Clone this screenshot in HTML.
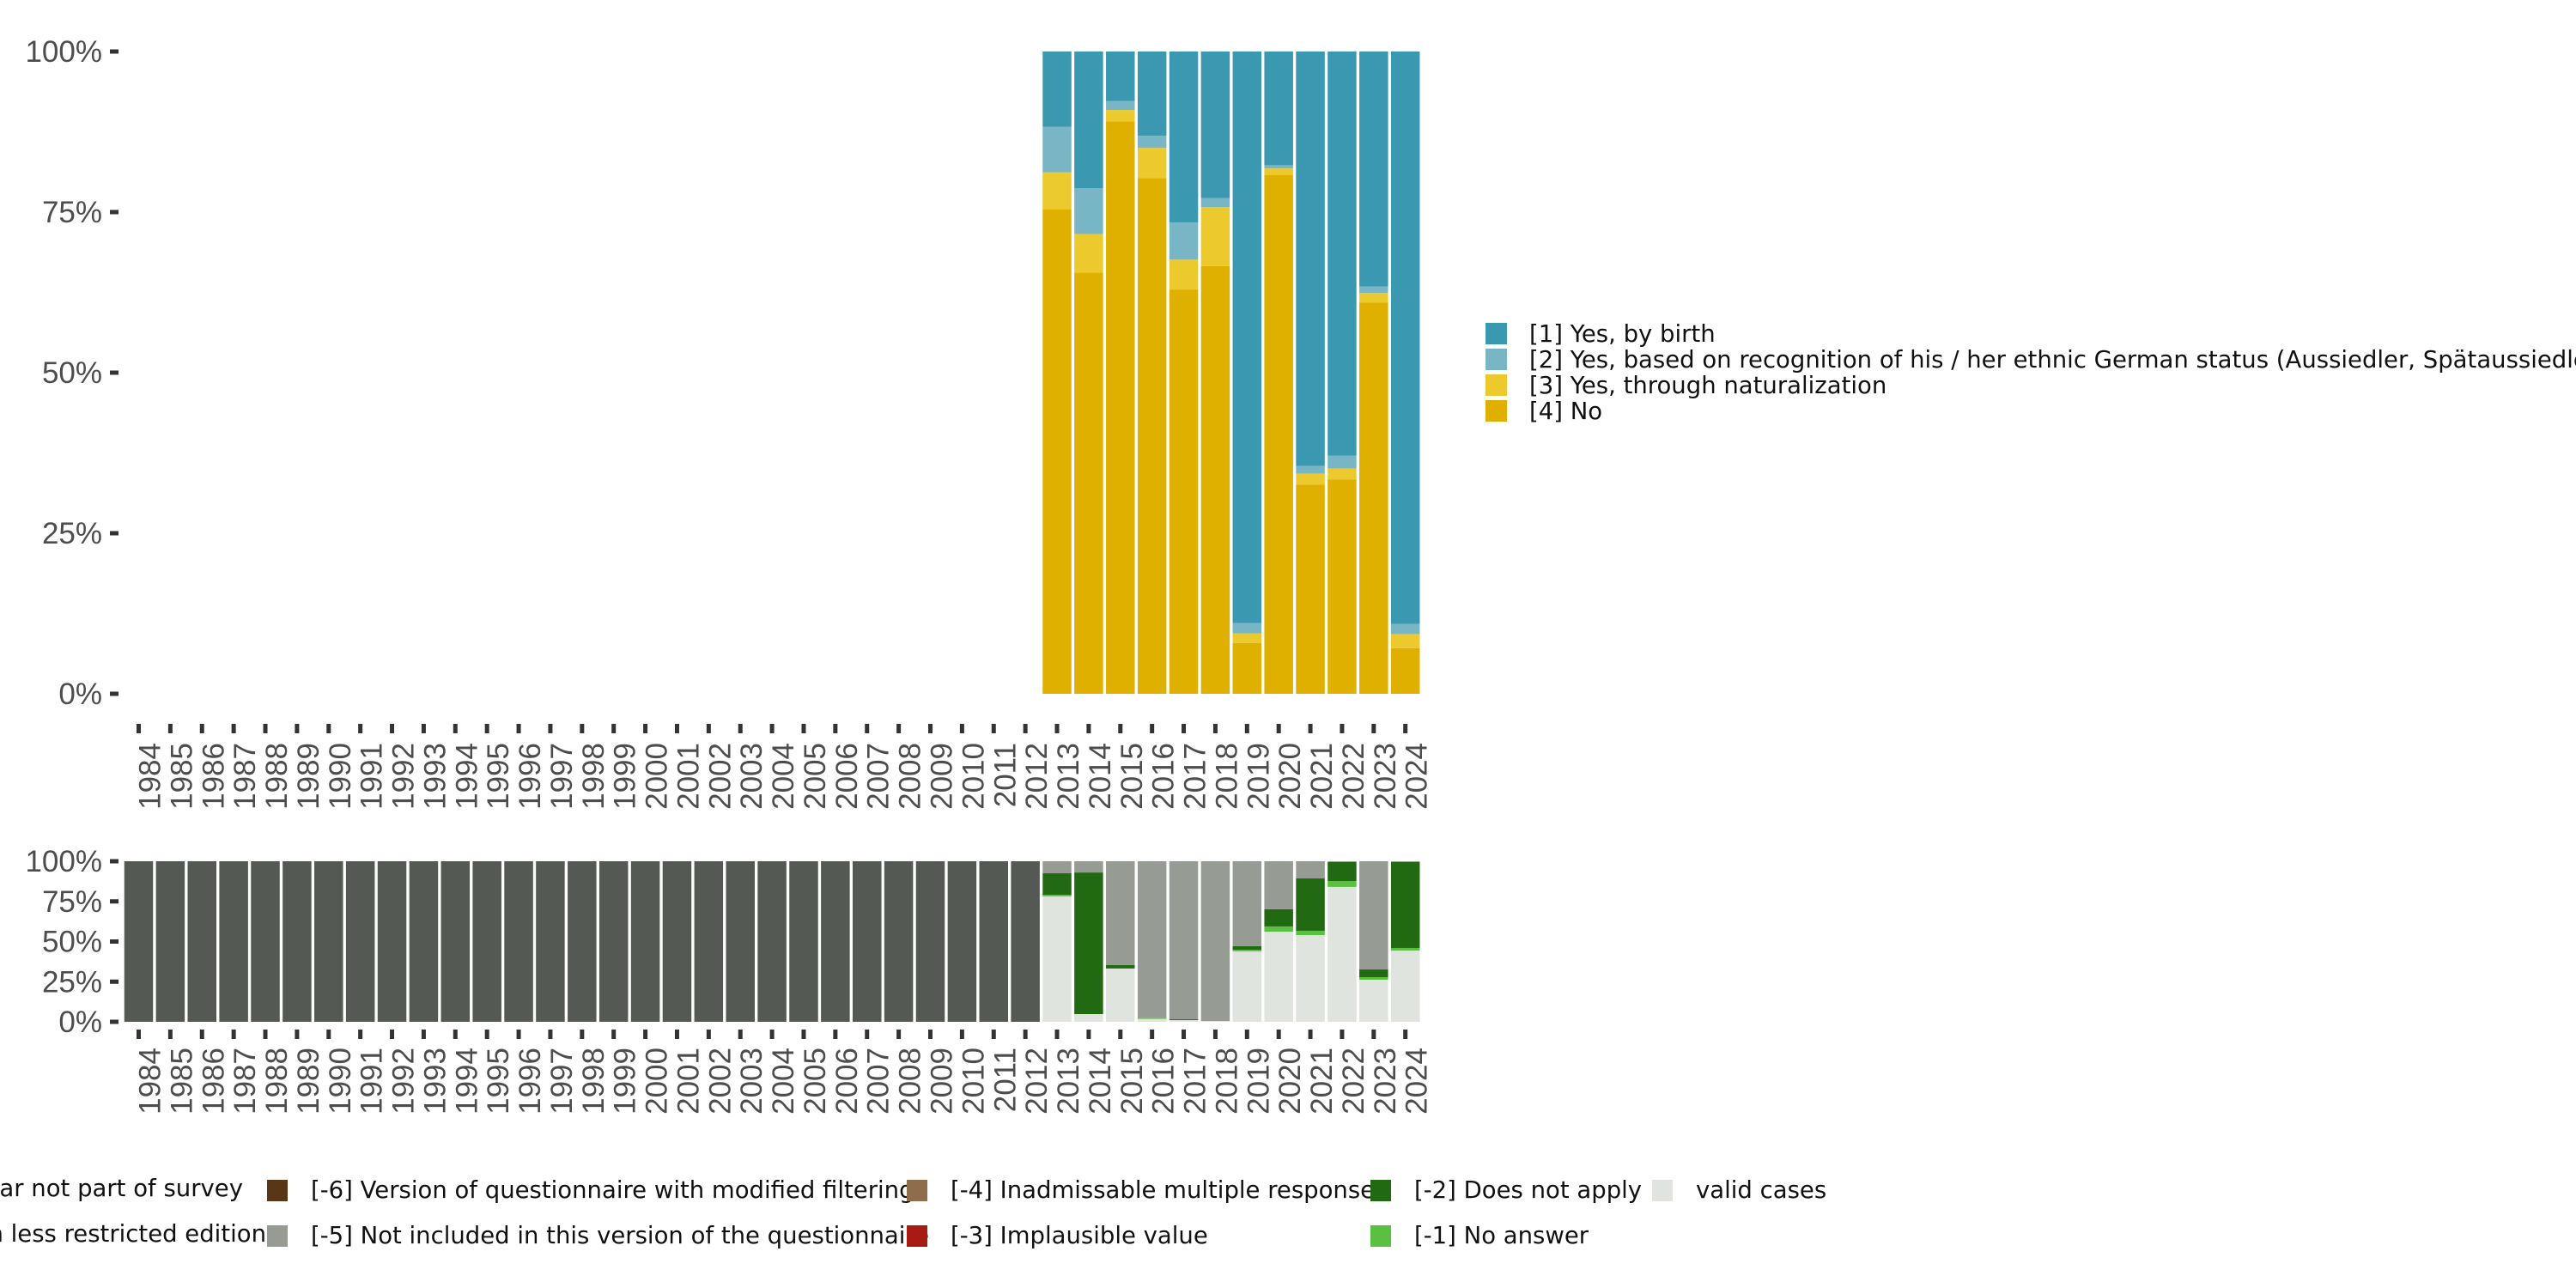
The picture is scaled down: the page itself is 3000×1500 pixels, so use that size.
<!DOCTYPE html>
<html><head><meta charset="utf-8"><style>
html,body{margin:0;padding:0;background:#fff;}
svg{display:block;font-family:"Liberation Sans","DejaVu Sans",sans-serif;}
.lg{font-family:"DejaVu Sans","Liberation Sans",sans-serif;}
</style></head><body>
<svg id="chart" width="3000" height="1500" viewBox="0 0 3000 1500" xmlns="http://www.w3.org/2000/svg">
<rect width="3000" height="1500" fill="#fff"/>
<g id="top"></g>
<g id="bot"></g>
<g id="leg1" class="lg"></g>
<g id="leg2" class="lg"></g>
</svg>
<script>
const years = [];
for (let y = 1984; y <= 2024; y++) years.push(y);
const topYears = [2013,2014,2015,2016,2017,2018,2019,2020,2021,2022,2023,2024];
const topNo    = [75.4,65.6,89.1,80.3,62.9,66.6,7.9,80.8,32.6,33.4,60.9,7.1];
const topNat   = [5.8,6.0,1.8,4.7,4.7,9.2,1.5,1.0,1.7,1.7,1.5,2.2];
const topEth   = [7.1,7.1,1.4,1.9,5.8,1.4,1.6,0.5,1.2,2.0,1.0,1.6];
const topBirth = [11.7,21.3,7.7,13.1,26.6,22.8,89.0,17.7,64.5,62.9,36.6,89.1];
const botValid = [78.1,4.8,33.2,1.8,1.1,0.5,43.9,56.1,54.0,84.0,26.2,44.4];
const botNoAns = [1.0,0,0,0.4,0,0,1.0,3.3,2.7,3.7,1.6,1.6];
const botDNA   = [13.4,88.2,2.1,0,0.5,0,2.2,10.7,32.6,11.8,4.8,53.5];
const botNotIncl=[7.5,7.0,64.7,97.8,98.4,99.5,52.9,29.9,10.7,0.5,67.4,0.5];
const botMissingYears = [1984,1985,1986,1987,1988,1989,1990,1991,1992,1993,1994,1995,1996,1997,1998,1999,2000,2001,2002,2003,2004,2005,2006,2007,2008,2009,2010,2011,2012];
const yTicks = [0,25,50,75,100];
const yTickLabels = ["0%","25%","50%","75%","100%"];

const NS="http://www.w3.org/2000/svg";
function mk(tag, attrs, parent){const e=document.createElementNS(NS,tag);for(const k in attrs)e.setAttribute(k,attrs[k]);parent.appendChild(e);return e;}
const x = yr => 161.5 + (yr-1984)*36.88;
const BW = 33.5;

function panel(g, y0, y1, tickTop, labelTop, name){
  const ys = v => y1 - (v/100)*(y1-y0);
  yTicks.forEach((t,i)=>{
    const tk=mk('rect',{x:128,y:ys(t)-2.5,width:10,height:5,fill:'#333'},g);
    
    
    const tx=mk('text',{x:119,y:ys(t)+12,'text-anchor':'end','font-size':35,fill:'#4d4d4d'},g);
    tx.textContent=yTickLabels[i];
    
    
  });
  years.forEach(yr=>{
    const tk=mk('rect',{x:x(yr)-2.5,y:tickTop,width:5,height:11,fill:'#333'},g);
    
    
    const tx=mk('text',{x:0,y:0,'text-anchor':'end','font-size':35,fill:'#4d4d4d',transform:`translate(${x(yr)+25},${labelTop}) rotate(-90)`},g);
    tx.textContent=String(yr);
    
    
  });
  return ys;
}
function stack(g, yrs, series, colors, ys, name){
  yrs.forEach((yr,i)=>{
    let acc=0;
    series.forEach((s,j)=>{
      const v=s[i]; if(!v) {return;}
      const r=mk('rect',{x:x(yr)-BW/2,y:ys(acc+v),width:BW,height:ys(acc)-ys(acc+v),fill:colors[j]},g);
      
      
      acc+=v;
    });
  });
}
const gt=document.getElementById('top');
const ysT=panel(gt,60,808,843,865,'top');
stack(gt, topYears,[topNo,topNat,topEth,topBirth],['#e0b000','#ecca2d','#78b5c5','#3b98b1'],ysT,'top');

const gb=document.getElementById('bot');
const ysB=panel(gb,1003,1190,1199,1220,'bottom');
stack(gb, botMissingYears,[botMissingYears.map(()=>100)],['#545a53'],ysB,'bottom');
stack(gb, topYears,[botValid,botNoAns,botDNA,botNotIncl],['#e0e4df','#5bbf41','#216a11','#969b94'],ysB,'bottom');

const l1=document.getElementById('leg1');
const l1labels=["[1] Yes, by birth","[2] Yes, based on recognition of his / her ethnic German status (Aussiedler, Spätaussiedler)","[3] Yes, through naturalization","[4] No"];
const l1colors=['#3b98b1','#78b5c5','#ecca2d','#e0b000'];
l1labels.forEach((t,i)=>{
  const r=mk('rect',{x:1730,y:376+i*30,width:25,height:25,fill:l1colors[i]},l1);
  
  
  const tx=mk('text',{x:1781,y:398+i*30,'font-size':27.5,fill:'#111'},l1);
  tx.textContent=t;
  
  
});

const l2=document.getElementById('leg2');
const endTexts=[["[-8] Question this year not part of survey",283,1393],["[-7] Only available in less restricted edition",310,1446]];
endTexts.forEach(e=>{
  const tx=mk('text',{x:e[1],y:e[2],'text-anchor':'end','font-size':27.5,fill:'#111'},l2);
  tx.textContent=e[0];
  
  
});
const l2items=[
  [311,0,'#593714','[-6] Version of questionnaire with modified filtering'],
  [311,1,'#969b94','[-5] Not included in this version of the questionnaire'],
  [1056,0,'#8f6d4a','[-4] Inadmissable multiple response'],
  [1056,1,'#a71b14','[-3] Implausible value'],
  [1596,0,'#216a11','[-2] Does not apply'],
  [1596,1,'#5bbf41','[-1] No answer'],
  [1924,0,'#e0e4df','valid cases']
];
l2items.forEach(it=>{
  const yy=it[1]?1427:1374;
  const tx=mk('text',{x:it[0]+51,y:yy+21,'font-size':27.5,fill:'#111'},l2);
  tx.textContent=it[3];
  
  
});
l2items.forEach(it=>{
  const yy=it[1]?1427:1374;
  const r=mk('rect',{x:it[0],y:yy,width:24,height:25,fill:it[2]},l2);
  
  
});
</script>
</body></html>
